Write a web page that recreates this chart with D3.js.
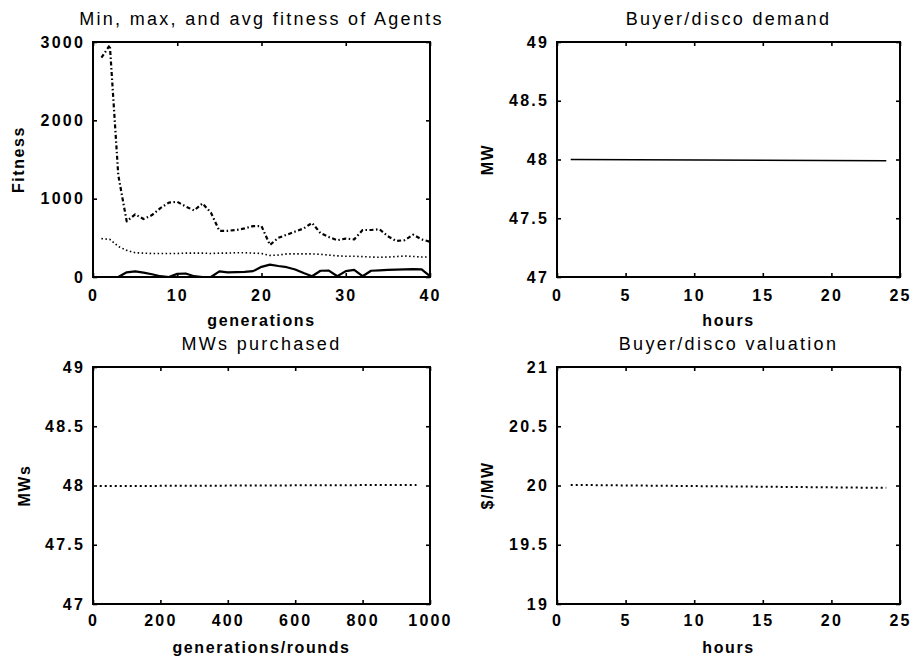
<!DOCTYPE html>
<html>
<head>
<meta charset="utf-8">
<script src="https://cdn.jsdelivr.net/npm/d3@7"></script>
<style>
  html, body { margin: 0; padding: 0; background: #fff; }
  svg { display: block; }
  text { font-family: "Liberation Sans", Arial, Helvetica, sans-serif; fill: #000; }
  .title { font-size: 18px; letter-spacing: 2.3px; }
  .tick text { font-size: 16px; font-weight: bold; letter-spacing: 2.2px; }
  .alabel { font-size: 16px; font-weight: bold; letter-spacing: 1.6px; }
</style>
</head>
<body>
<svg id="fig" width="914" height="659"></svg>
<script>
// ---- Agent fitness per generation ----
const generations = [1,2,3,4,5,6,7,8,9,10,11,12,13,14,15,16,17,18,19,20,
                     21,22,23,24,25,26,27,28,29,30,31,32,33,34,35,36,37,38,39,40];
const fitnessMax = [2800,2960,1300,710,800,740,790,880,950,960,
                    900,850,940,820,590,590,600,620,650,650,
                    410,500,540,580,620,690,560,510,470,490,
                    480,600,600,610,520,460,470,540,480,450];
const fitnessAvg = [490,480,390,340,310,305,300,300,300,300,
                    305,305,305,300,305,305,310,310,305,300,
                    275,280,295,295,295,295,290,280,270,265,
                    265,260,255,252,255,262,268,262,255,255];
const fitnessMin = [0,0,0,60,72,55,35,10,0,40,
                    45,10,0,0,72,60,62,65,75,130,
                    158,140,125,95,50,10,80,82,10,75,
                    90,10,80,85,90,95,98,100,98,10];
const fitnessXTicks = [0,10,20,30,40];
const fitnessYTicks = [0,1000,2000,3000];

// ---- Buyer/disco demand per hour ----
const demandHours = [1,24];
const demandMW = [48.0,47.99];
const demandXTicks = [0,5,10,15,20,25];
const demandYTicks = [47,47.5,48,48.5,49];

// ---- MWs purchased per round ----
const purchaseRounds = [20,960];
const purchaseMW = [47.995,48.005];
const purchaseXTicks = [0,200,400,600,800,1000];
const purchaseYTicks = [47,47.5,48,48.5,49];

// ---- Buyer/disco valuation per hour ----
const valuationHours = [1,24];
const valuationPrice = [20.005,19.98];
const valuationXTicks = [0,5,10,15,20,25];
const valuationYTicks = [19,19.5,20,20.5,21];

const svg = d3.select("#fig");
const zip = (xs, ys) => xs.map((x, i) => [x, ys[i]]);

function panel(cfg) {
  const [x0, x1, y0, y1] = cfg.box;
  const x = d3.scaleLinear().domain(cfg.xDomain).range([x0, x1]);
  const y = d3.scaleLinear().domain(cfg.yDomain).range([y1, y0]);
  const g = svg.append("g");

  // series
  cfg.series.forEach(s => {
    g.append("path")
      .datum(zip(s.x, s.y))
      .attr("fill", "none")
      .attr("stroke", "#000")
      .attr("stroke-width", s.width)
      .attr("stroke-dasharray", s.dash || null)
      .attr("stroke-linejoin", "round")
      .attr("stroke-linecap", s.cap || "butt")
      .attr("d", d3.line().x(d => x(d[0])).y(d => y(d[1])));
  });

  // axes with inward ticks on all four sides
  const fmt = d => String(d);
  const bottom = g.append("g").attr("transform", `translate(0,${y1})`)
    .call(d3.axisBottom(x).tickValues(cfg.xTicks).tickSizeInner(-4).tickSizeOuter(0)
      .tickPadding(cfg.xPad).tickFormat(fmt));
  const left = g.append("g").attr("transform", `translate(${x0},0)`)
    .call(d3.axisLeft(y).tickValues(cfg.yTicks).tickSizeInner(-4).tickSizeOuter(0)
      .tickPadding(8).tickFormat(fmt));
  const top = g.append("g").attr("transform", `translate(0,${y0})`)
    .call(d3.axisTop(x).tickValues(cfg.xTicks).tickSizeInner(-4).tickSizeOuter(0).tickFormat(""));
  const right = g.append("g").attr("transform", `translate(${x1},0)`)
    .call(d3.axisRight(y).tickValues(cfg.yTicks).tickSizeInner(-4).tickSizeOuter(0).tickFormat(""));
  [bottom, left, top, right].forEach(a => {
    a.select(".domain").remove();
    a.selectAll(".tick line").attr("stroke", "#000").attr("stroke-width", 1.6);
    a.attr("font-family", null).attr("font-size", null);
  });

  // frame
  g.append("rect")
    .attr("x", x0).attr("y", y0)
    .attr("width", x1 - x0).attr("height", y1 - y0)
    .attr("fill", "none").attr("stroke", "#000").attr("stroke-width", 2);

  // title and labels
  const cx = (x0 + x1) / 2;
  g.append("text").attr("class", "title")
    .attr("x", cx).attr("y", y0 - 17)
    .attr("text-anchor", "middle").text(cfg.title);
  g.append("text").attr("class", "alabel")
    .attr("x", cx).attr("y", y1 + 49)
    .attr("text-anchor", "middle").text(cfg.xLabel);
  g.append("text").attr("class", "alabel")
    .attr("transform", `translate(${x0 - cfg.yLabelGap},${(y0 + y1) / 2}) rotate(-90)`)
    .attr("dy", "0.35em")
    .attr("text-anchor", "middle").text(cfg.yLabel);
}

panel({
  box: [93, 430, 42, 277],
  xDomain: [0, 40], yDomain: [0, 3000],
  xTicks: fitnessXTicks, yTicks: fitnessYTicks, xPad: 13,
  title: "Min, max, and avg fitness of Agents",
  xLabel: "generations", yLabel: "Fitness", yLabelGap: 75,
  series: [
    { x: generations, y: fitnessMax, width: 2.2, dash: "4,2.5,1.5,2.5" },
    { x: generations, y: fitnessAvg, width: 1.6, dash: "1.5,2.5" },
    { x: generations, y: fitnessMin, width: 2.2 }
  ]
});

panel({
  box: [557, 900, 42, 277],
  xDomain: [0, 25], yDomain: [47, 49],
  xTicks: demandXTicks, yTicks: demandYTicks, xPad: 13,
  title: "Buyer/disco demand",
  xLabel: "hours", yLabel: "MW", yLabelGap: 70,
  series: [
    { x: demandHours, y: demandMW, width: 1.6 }
  ]
});

panel({
  box: [93, 430, 367, 604],
  xDomain: [0, 1000], yDomain: [47, 49],
  xTicks: purchaseXTicks, yTicks: purchaseYTicks, xPad: 11,
  title: "MWs purchased",
  xLabel: "generations/rounds", yLabel: "MWs", yLabelGap: 69,
  series: [
    { x: purchaseRounds, y: purchaseMW, width: 2, dash: "2,3" }
  ]
});

panel({
  box: [557, 900, 367, 604],
  xDomain: [0, 25], yDomain: [19, 21],
  xTicks: valuationXTicks, yTicks: valuationYTicks, xPad: 11,
  title: "Buyer/disco valuation",
  xLabel: "hours", yLabel: "$/MW", yLabelGap: 70,
  series: [
    { x: valuationHours, y: valuationPrice, width: 2, dash: "2,3" }
  ]
});
</script>
</body>
</html>
